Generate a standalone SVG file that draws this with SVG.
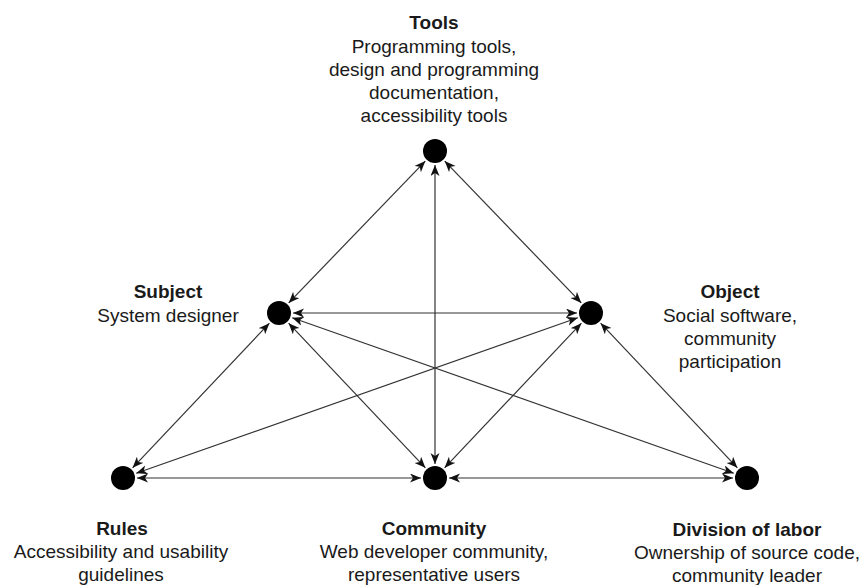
<svg xmlns="http://www.w3.org/2000/svg" width="864" height="585" viewBox="0 0 864 585">
<style>
text{font-family:"Liberation Sans",Arial,Helvetica,sans-serif;font-size:19px;fill:#1a1a1a;text-anchor:middle}
.t{font-weight:bold}
.c{fill:#000}
#connectors line{stroke:#333;stroke-width:1.2;marker-start:url(#ah);marker-end:url(#ah)}
</style>
<defs>
<marker id="ah" markerUnits="userSpaceOnUse" markerWidth="12" markerHeight="10" refX="11" refY="4.5" orient="auto-start-reverse">
<path d="M0,0 L11,4.5 L0,9 L3,4.5 z" fill="#111"/>
</marker>
</defs>
<rect width="864" height="585" fill="#fff"/>
<g id="connectors">
<line x1="425.3" y1="161.1" x2="288.7" y2="302.9"/>
<line x1="444.7" y1="161.1" x2="581.3" y2="302.9"/>
<line x1="435" y1="165" x2="435" y2="464"/>
<line x1="293" y1="313" x2="577" y2="313"/>
<line x1="269.4" y1="323.2" x2="132.6" y2="467.8"/>
<line x1="288.6" y1="323.2" x2="425.4" y2="467.8"/>
<line x1="292.2" y1="317.7" x2="733.8" y2="473.3"/>
<line x1="577.8" y1="317.7" x2="136.2" y2="473.3"/>
<line x1="581.4" y1="323.2" x2="444.6" y2="467.8"/>
<line x1="600.6" y1="323.2" x2="737.4" y2="467.8"/>
<line x1="137" y1="478" x2="421" y2="478"/>
<line x1="449" y1="478" x2="733" y2="478"/>
</g>
<g id="tools">
<circle class="c" cx="435" cy="151" r="12"/>
<text class="t" x="434" y="29">Tools</text>
<text x="434" y="53">Programming tools,</text>
<text x="434" y="76">design and programming</text>
<text x="434" y="99">documentation,</text>
<text x="434" y="122">accessibility tools</text>
</g>
<g id="subject">
<circle class="c" cx="279" cy="313" r="12"/>
<text class="t" x="168" y="298">Subject</text>
<text x="168" y="322">System designer</text>
</g>
<g id="object">
<circle class="c" cx="591" cy="313" r="12"/>
<text class="t" x="730" y="298">Object</text>
<text x="730" y="322">Social software,</text>
<text x="730" y="345">community</text>
<text x="730" y="368">participation</text>
</g>
<g id="rules">
<circle class="c" cx="123" cy="478" r="12"/>
<text class="t" x="122" y="535">Rules</text>
<text x="121" y="558">Accessibility and usability</text>
<text x="121" y="581">guidelines</text>
</g>
<g id="community">
<circle class="c" cx="435" cy="478" r="12"/>
<text class="t" x="434" y="535">Community</text>
<text x="434" y="558">Web developer community,</text>
<text x="434" y="581">representative users</text>
</g>
<g id="division">
<circle class="c" cx="747" cy="478" r="12"/>
<text class="t" x="747" y="536">Division of labor</text>
<text x="747" y="559">Ownership of source code,</text>
<text x="747" y="582">community leader</text>
</g>
</svg>
